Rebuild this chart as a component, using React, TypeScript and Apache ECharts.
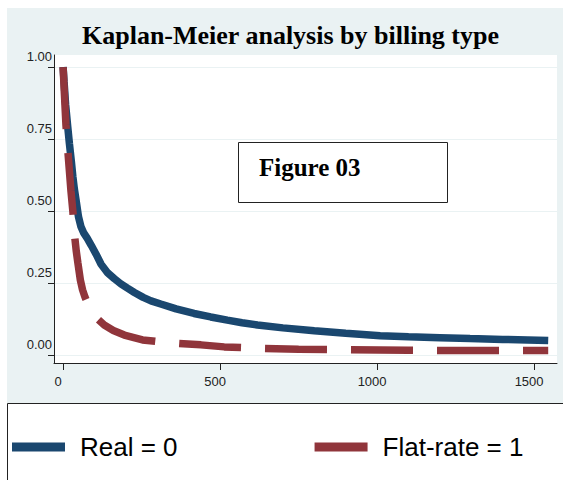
import React, { useEffect, useRef } from 'react';
import * as echarts from 'echarts';

const chartTitle = 'Kaplan-Meier analysis by billing type';
const boxLabel = 'Figure 03';
const seriesNames = ['Real = 0', 'Flat-rate = 1'];
const xTicks = [0, 500, 1000, 1500];
const yTicks = [0, 0.25, 0.5, 0.75, 1];

const realDays = [0, 3, 8, 15, 20, 26, 31, 36, 41, 49, 57, 65, 77, 90, 105, 121, 142, 163, 184, 205, 227, 255, 280, 311, 360, 417, 470, 523, 570, 619, 700, 800, 900, 1010, 1100, 1200, 1296, 1400, 1480, 1545];
const realSurv = [1.0, 0.95, 0.87, 0.79, 0.735, 0.675, 0.62, 0.575, 0.54, 0.48, 0.445, 0.425, 0.405, 0.38, 0.35, 0.315, 0.285, 0.265, 0.247, 0.232, 0.217, 0.2, 0.188, 0.177, 0.16, 0.144, 0.132, 0.121, 0.112, 0.104, 0.094, 0.084, 0.075, 0.067, 0.063, 0.06, 0.057, 0.054, 0.052, 0.05];

const flatDays = [0, 4, 9, 15, 20, 25, 31, 36, 42, 47, 55, 62, 70, 78, 90, 105, 131, 160, 195, 253, 330, 439, 513, 629, 750, 900, 1100, 1300, 1545];
const flatSurv = [1.0, 0.91, 0.8, 0.71, 0.64, 0.57, 0.5, 0.42, 0.36, 0.32, 0.26, 0.226, 0.2, 0.18, 0.155, 0.13, 0.104, 0.085, 0.069, 0.052, 0.043, 0.035, 0.028, 0.023, 0.02, 0.018, 0.016, 0.015, 0.015];

const NAVY = '#1a476f';
const MAROON = '#90353b';
const BG = '#eaf2f3';

export default function App() {
  const ref = useRef<HTMLDivElement>(null);
  useEffect(() => {
    if (!ref.current) return;
    const chart = echarts.init(ref.current, null, { renderer: 'svg' });
    const realData = realDays.map((d, i) => [d, realSurv[i]]);
    const flatData = flatDays.map((d, i) => [d, flatSurv[i]]);
    chart.setOption({
      animation: false,
      title: {
        text: chartTitle,
        left: 82,
        top: 22,
        padding: 0,
        textStyle: { fontFamily: 'Liberation Serif', fontWeight: 'bold', fontSize: 26, color: '#000' },
      },
      graphic: [
        { type: 'rect', z: -100, shape: { x: 7, y: 8, width: 556, height: 395 }, style: { fill: BG } },
        { type: 'rect', z: -50, shape: { x: 7.5, y: 403.5, width: 600, height: 100 }, style: { fill: '#fff', stroke: '#222', lineWidth: 1 } },
        { type: 'rect', z: 10, shape: { x: 238.5, y: 142.5, width: 209, height: 60 }, style: { fill: '#fff', stroke: '#222', lineWidth: 1 } },
        { type: 'text', z: 11, style: { text: boxLabel, x: 259, y: 167, font: 'bold 25px "Liberation Serif"', fill: '#000', verticalAlign: 'middle', align: 'left' } },
      ],
      legend: {
        data: seriesNames,
        left: 12,
        top: 434,
        padding: 0,
        icon: 'rect',
        itemWidth: 53,
        itemHeight: 9,
        itemGap: 137,
        selectedMode: false,
        textStyle: { fontSize: 26, fontFamily: 'Liberation Sans', color: '#000', padding: [0, 0, 0, 10] },
      },
      grid: { left: 54, right: 6, top: 55, bottom: 117, show: true, backgroundColor: '#fff', borderWidth: 0 },
      xAxis: {
        type: 'value',
        min: -29,
        max: 1573,
        axisLine: { show: true, onZero: false, lineStyle: { color: '#222', width: 1 } },
        axisTick: { show: true, length: 7, customValues: xTicks, lineStyle: { color: '#222' } },
        axisLabel: { customValues: xTicks, margin: 12, fontSize: 13, fontFamily: 'Liberation Sans', color: '#222', padding: [0, 10, 0, 0], formatter: (v: number) => String(v) },
        splitLine: { show: false },
      },
      yAxis: {
        type: 'value',
        min: -0.028,
        max: 1.042,
        axisLine: { show: true, onZero: false, lineStyle: { color: '#222', width: 1 } },
        axisTick: { show: true, length: 6, customValues: yTicks, lineStyle: { color: '#222' } },
        axisLabel: { customValues: yTicks, margin: 2, fontSize: 13, lineHeight: 13, fontFamily: 'Liberation Sans', color: '#222', verticalAlign: 'bottom', padding: [0, 0, 4, 0], formatter: (v: number) => v.toFixed(2) },
        splitLine: { show: true, lineStyle: { color: BG, width: 1 } },
      },
      series: [
        {
          name: seriesNames[0],
          type: 'line',
          data: realData,
          symbol: 'none',
          color: NAVY,
          lineStyle: { color: NAVY, width: 7.5 },
          z: 2,
        },
        {
          name: seriesNames[1],
          type: 'line',
          data: flatData,
          symbol: 'none',
          color: MAROON,
          lineStyle: { color: MAROON, width: 7.5, type: [62, 24] },
          z: 3,
        },
      ],
    });
    return () => chart.dispose();
  }, []);
  return <div ref={ref} style={{ position: 'absolute', left: 0, top: 0, width: 563, height: 480 }} />;
}
